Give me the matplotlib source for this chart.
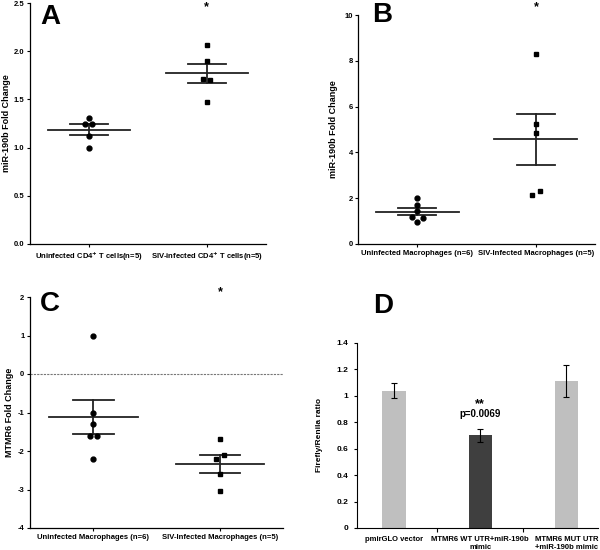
import numpy as np
import matplotlib
matplotlib.use("Agg")
from matplotlib import pyplot as plt

plt.rcParams["font.family"] = ["Liberation Sans", "DejaVu Sans"]
plt.rcParams["font.weight"] = "bold"
plt.rcParams["mathtext.default"] = "bf"

# panel A
a_labels = [r"Uninfected CD4$^{+}$ T cells(n=5)", r"SIV-infected CD4$^{+}$ T cells(n=5)"]
a_uninf = [1.31, 1.25, 1.25, 1.12, 1.00]
a_siv = [2.07, 1.90, 1.71, 1.70, 1.47]
a_uninf_x = [0.0, -0.03, 0.03, 0.0, 0.0]
a_siv_x = [0.0, 0.0, -0.03, 0.03, 0.0]

# panel B
b_labels = ["Uninfected Macrophages (n=6)", "SIV-Infected Macrophages (n=5)"]
b_uninf = [2.0, 1.7, 1.44, 1.19, 1.15, 0.98]
b_siv = [8.3, 5.25, 4.85, 2.3, 2.15]
b_uninf_x = [0.0, 0.0, 0.0, -0.05, 0.05, 0.0]
b_siv_x = [0.0, 0.0, 0.0, 0.03, -0.03]

# panel C
c_labels = ["Uninfected Macrophages (n=6)", "SIV-Infected Macrophages (n=5)"]
c_uninf = [1.0, -1.0, -1.3, -1.6, -1.6, -2.2]
c_siv = [-1.7, -2.1, -2.2, -2.6, -3.05]
c_uninf_x = [0.0, 0.0, 0.0, -0.03, 0.03, 0.0]
c_siv_x = [0.0, 0.03, -0.03, 0.0, 0.0]

# panel D
d_labels = ["pmirGLO vector", "MTMR6 WT UTR+miR-190b\nmimic", "MTMR6 MUT UTR\n+miR-190b mimic"]
d_vals = [1.04, 0.70, 1.11]
d_err = [0.055, 0.05, 0.12]
d_colors = ["#bfbfbf", "#3f3f3f", "#bfbfbf"]

fig = plt.figure(figsize=(6, 5.5), dpi=100)


def scatter_panel(rect, g1, g2, x1, x2, labels, ylim, yticks, yfmt, ylabel, lab_x, star_y):
    ax = fig.add_axes(rect)
    for i, (vals, xs, mk) in enumerate([(g1, x1, "o"), (g2, x2, "s")]):
        vals = np.array(vals)
        ax.plot(i + np.array(xs), vals, mk, color="black", ms=3.5, zorder=3, clip_on=False)
        m = vals.mean()
        se = vals.std(ddof=1) / np.sqrt(len(vals))
        ax.plot([i - 0.35, i + 0.35], [m, m], color="#222222", lw=1.3)
        ax.plot([i - 0.16, i + 0.16], [m + se, m + se], color="#222222", lw=1.3)
        ax.plot([i - 0.16, i + 0.16], [m - se, m - se], color="#222222", lw=1.3)
        ax.plot([i, i], [m - se, m + se], color="#222222", lw=1.3)
    ax.set_xlim(-0.5, 1.5)
    ax.set_ylim(*ylim)
    ax.set_yticks(yticks)
    ax.set_yticklabels([yfmt.format(v) for v in yticks])
    ax.set_xticks([0, 1])
    ax.set_xticklabels(labels)
    ax.tick_params(labelsize=5.5, length=2, width=0.8, pad=2)
    for s in ["top", "right"]:
        ax.spines[s].set_visible(False)
    for s in ["left", "bottom"]:
        ax.spines[s].set_linewidth(0.9)
    ax.set_ylabel(ylabel, fontsize=6.5, fontweight="bold")
    ax.yaxis.set_label_coords(lab_x, 0.5)
    ax.text(1, star_y, "*", ha="center", va="center", fontsize=9, clip_on=False)
    return ax


axA = scatter_panel([0.05, 0.5564, 0.393, 0.438], a_uninf, a_siv, a_uninf_x, a_siv_x,
                    a_labels, (0, 2.5), [0, 0.5, 1.0, 1.5, 2.0, 2.5], "{:.1f}",
                    "miR-190b Fold Change", -0.08, 2.455)
axB = scatter_panel([0.597, 0.5564, 0.395, 0.416], b_uninf, b_siv, b_uninf_x, b_siv_x,
                    b_labels, (0, 10), [0, 2, 4, 6, 8, 10], "{:g}",
                    "miR-190b Fold Change", -0.085, 10.35)
axC = scatter_panel([0.05, 0.04, 0.422, 0.42], c_uninf, c_siv, c_uninf_x, c_siv_x,
                    c_labels, (-4, 2), [-4, -3, -2, -1, 0, 1, 2], "{:g}",
                    "MTMR6 Fold Change", -0.065, 2.12)
axC.axhline(0, color="#777777", lw=0.8, ls=(0, (2, 1)), zorder=1)

fig.text(50 / 600, 1 - 17 / 550, "A", fontsize=20, fontweight="bold", ha="center", va="center")
fig.text(382 / 600, 1 - 15 / 550, "B", fontsize=20, fontweight="bold", ha="center", va="center")
fig.text(50 / 600, 1 - 304 / 550, "C", fontsize=20, fontweight="bold", ha="center", va="center")
fig.text(383 / 600, 1 - 306 / 550, "D", fontsize=20, fontweight="bold", ha="center", va="center")

# panel D bars
axD = fig.add_axes([0.595, 0.04, 0.402, 0.3364])
x = np.arange(len(d_vals))
axD.bar(x, d_vals, width=0.27, color=d_colors, zorder=2)
axD.errorbar(x, d_vals, yerr=d_err, fmt="none", ecolor="black", elinewidth=0.8,
             capsize=2, capthick=0.8, zorder=3)
axD.set_xlim(-0.43, 2.37)
axD.set_ylim(0, 1.4)
yt = [0, 0.2, 0.4, 0.6, 0.8, 1.0, 1.2, 1.4]
axD.set_yticks(yt)
axD.set_yticklabels([f"{v:g}" for v in yt])
axD.set_xticks(x)
axD.set_xticklabels(d_labels)
axD.set_xticks([0.5, 1.5], minor=True)
axD.tick_params(axis="x", which="major", length=0, labelsize=5.5, pad=6)
axD.tick_params(axis="x", which="minor", length=3, width=0.8)
axD.tick_params(axis="y", labelsize=6, length=2.5, width=0.8)
for s in ["top", "right"]:
    axD.spines[s].set_visible(False)
for s in ["left", "bottom"]:
    axD.spines[s].set_linewidth(0.8)
axD.set_ylabel("Firefly/Renila ratio", fontsize=6, fontweight="bold")
axD.yaxis.set_label_coords(-0.14, 0.5)
axD.text(1, 0.935, "**", ha="center", va="center", fontsize=9, fontweight="bold")
axD.text(1, 0.86, "p=0.0069", ha="center", va="center", fontsize=7, fontweight="bold")

fig.savefig("out.png", dpi=100)
